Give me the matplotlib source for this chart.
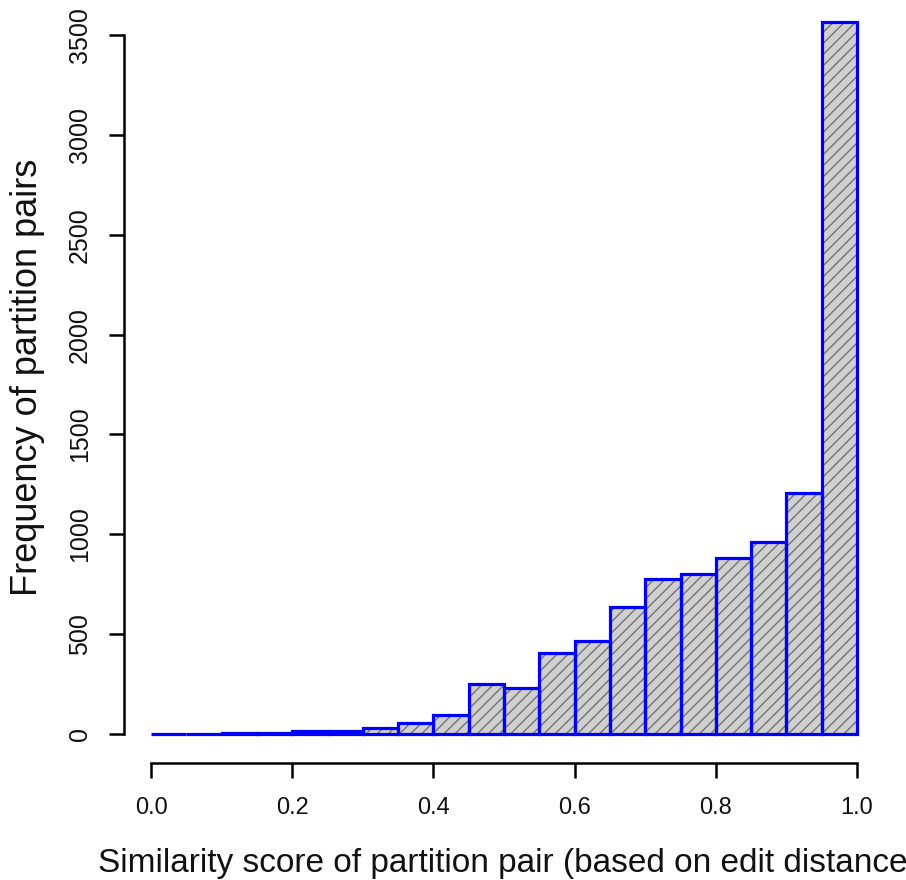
import matplotlib
matplotlib.use("Agg")
import matplotlib.pyplot as plt
from matplotlib import font_manager
import numpy as np

# ---- data ----
bin_edges = [0.00, 0.05, 0.10, 0.15, 0.20, 0.25, 0.30, 0.35, 0.40, 0.45, 0.50,
             0.55, 0.60, 0.65, 0.70, 0.75, 0.80, 0.85, 0.90, 0.95, 1.00]
counts = [1, 2, 3, 6, 15, 15, 28, 57, 93, 248, 230, 405, 465, 636, 776, 801,
          881, 961, 1207, 3565]
x_ticks = [0.0, 0.2, 0.4, 0.6, 0.8, 1.0]
x_tick_labels = ["0.0", "0.2", "0.4", "0.6", "0.8", "1.0"]
y_ticks = [0, 500, 1000, 1500, 2000, 2500, 3000, 3500]
y_tick_labels = ["0", "500", "1000", "1500", "2000", "2500", "3000", "3500"]
x_label = "Similarity score of partition pair (based on edit distance"
y_label = "Frequency of partition pairs"

# ---- fonts ----
names = {f.name for f in font_manager.fontManager.ttflist}
has_narrow = "Liberation Sans Narrow" in names
narrow = ["Liberation Sans Narrow", "Liberation Sans", "DejaVu Sans"] if has_narrow \
    else ["Liberation Sans", "DejaVu Sans"]
regular = ["Liberation Sans", "DejaVu Sans"]

W, H, DPI = 906, 880, 100
fig = plt.figure(figsize=(W / DPI, H / DPI), dpi=DPI)
fig.patch.set_facecolor("white")

# axes placement (pixels from top-left)
x0_px, x1_px = 151, 857
y0_px = 734
px_per_unit = 699 / 3500
ymax = 3600
top_px = y0_px - ymax * px_per_unit
ax = fig.add_axes([x0_px / W, (H - y0_px) / H, (x1_px - x0_px) / W,
                   (y0_px - top_px) / H])
ax.set_xlim(0, 1)
ax.set_ylim(0, ymax)

lefts = np.array(bin_edges[:-1])
widths = np.diff(bin_edges)
plt.rcParams["hatch.linewidth"] = 1.0
ax.bar(lefts, counts, width=widths, align="edge", facecolor="#d0d0d0",
       edgecolor="#737373", hatch="///", linewidth=0, clip_on=False, zorder=2)
ax.bar(lefts, counts, width=widths, align="edge", fill=False,
       edgecolor="#0000ff", linewidth=2.3, clip_on=False, zorder=3)

# R-style detached axes
for s in ["top", "right"]:
    ax.spines[s].set_visible(False)
ax.spines["left"].set_position(("outward", 27 * 72 / DPI))
ax.spines["bottom"].set_position(("outward", 28.7 * 72 / DPI))
ax.spines["left"].set_bounds(0, 3500)
ax.spines["bottom"].set_bounds(0, 1)
for s in ["left", "bottom"]:
    ax.spines[s].set_linewidth(1.8)
    ax.spines[s].set_color("black")

ax.set_xticks(x_ticks)
ax.set_xticklabels(x_tick_labels, family=narrow, fontsize=18 if has_narrow else 17,
                   color="#111111")
ax.set_yticks(y_ticks)
ax.set_yticklabels(y_tick_labels, family=regular, fontsize=18,
                   rotation=90, va="center", ha="right", color="#111111")
ax.tick_params(axis="x", direction="out", length=15 * 72 / DPI, width=1.8,
               pad=19 * 72 / DPI)
ax.tick_params(axis="y", direction="out", length=15 * 72 / DPI, width=1.8,
               pad=17 * 72 / DPI)
ax.set_facecolor("white")

fig.text(98 / W, (H - 872) / H, x_label, family=narrow,
         fontsize=27 if has_narrow else 24, ha="left", va="baseline",
         color="#111111")
fig.text(28 / W, (H - 377) / H, y_label, family=regular, fontsize=26,
         rotation=90, ha="center", va="center", color="#111111")

fig.savefig("out.png", dpi=DPI, facecolor="white")
